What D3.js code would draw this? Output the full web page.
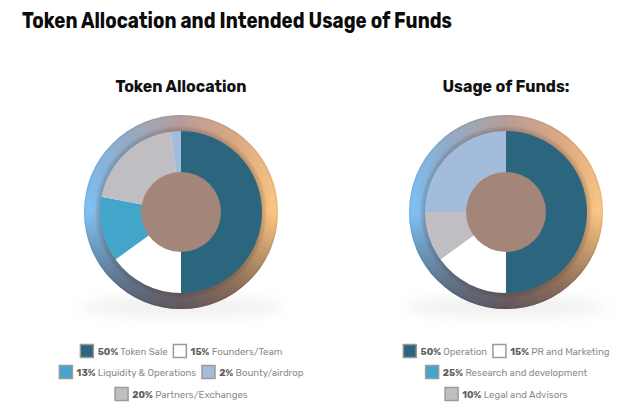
<!DOCTYPE html>
<html>
<head>
<meta charset="utf-8">
<script src="https://cdn.jsdelivr.net/npm/d3@7"></script>
<style>
  html, body { margin: 0; padding: 0; background: #fff; }
  svg { display: block; font-family: Rubik, Inter, "Noto Sans", sans-serif; }
</style>
</head>
<body>
<svg id="chart" width="640" height="416"></svg>
<script>
// token allocation
const allocLabels = ["Token Sale", "Founders/Team", "Liquidity & Operations", "Bounty/airdrop", "Partners/Exchanges"];
const allocValues = [50, 15, 13, 2, 20];
const allocPieColors = ["#2b667e", "#ffffff", "#43a5c9", "#a4bcdc", "#c0bec2"];
const allocLegendColors = ["#2b667e", "#ffffff", "#43a5c9", "#a4bcdc", "#c0bec2"];
const allocPieOrder = [0, 1, 2, 4, 3];
const allocLegendRows = [[0, 1], [2, 3], [4]];

// usage of funds
const fundsLabels = ["Operation", "PR and Marketing", "Research and development", "Legal and Advisors"];
const fundsValues = [50, 15, 25, 10];
const fundsPieColors = ["#2b667e", "#ffffff", "#a4bcdc", "#c0bec2"];
const fundsLegendColors = ["#2b667e", "#ffffff", "#43a5c9", "#c0bec2"];
const fundsPieOrder = [0, 1, 3, 2];
const fundsLegendRows = [[0, 1], [2], [3]];

const svg = d3.select("#chart");
const defs = svg.append("defs");

// ring shading: colour left->right, darker towards the bottom, soft tube edges
const horiz = defs.append("linearGradient").attr("id", "ringH")
  .attr("x1", "0%").attr("x2", "100%").attr("y1", "0%").attr("y2", "0%");
[["0%", "#7fc3f8"], ["22%", "#8fa9c4"], ["50%", "#b09390"], ["78%", "#dca67c"], ["100%", "#ffca85"]]
  .forEach(s => horiz.append("stop").attr("offset", s[0]).attr("stop-color", s[1]));

const vert = defs.append("linearGradient").attr("id", "ringV")
  .attr("x1", "0%").attr("x2", "0%").attr("y1", "0%").attr("y2", "100%");
[["0%", "#ffffff", 0.1], ["50%", "#000000", 0], ["100%", "#131a2a", 0.5]]
  .forEach(s => vert.append("stop").attr("offset", s[0]).attr("stop-color", s[1]).attr("stop-opacity", s[2]));

const tube = defs.append("radialGradient").attr("id", "ringTube")
  .attr("cx", "50%").attr("cy", "50%").attr("r", "50%");
[["82%", "#5a3e3a", 0.28], ["89%", "#000000", 0], ["97%", "#000000", 0], ["100%", "#000000", 0.08]]
  .forEach(s => tube.append("stop").attr("offset", s[0]).attr("stop-color", s[1]).attr("stop-opacity", s[2]));

const blur = defs.append("filter").attr("id", "shadowBlur")
  .attr("x", "-50%").attr("y", "-100%").attr("width", "200%").attr("height", "300%");
blur.append("feGaussianBlur").attr("stdDeviation", 7);

// main title
svg.append("text")
  .attr("x", 22).attr("y", 28)
  .attr("font-size", 22).attr("font-weight", 700).attr("fill", "#0b0b0b")
  .attr("textLength", 430).attr("lengthAdjust", "spacingAndGlyphs")
  .text("Token Allocation and Intended Usage of Funds");

function drawDonut(cx, cy, title, titleWidth, labels, values, pieColors, legendColors, order, rows) {
  const g = svg.append("g");
  const rOuter = 97, rPie = 81, rHole = 40;

  g.append("text")
    .attr("x", cx).attr("y", 92).attr("text-anchor", "middle")
    .attr("font-size", 16.5).attr("font-weight", 700).attr("fill", "#111")
    .attr("textLength", titleWidth).attr("lengthAdjust", "spacingAndGlyphs")
    .text(title);

  // floor shadow
  g.append("ellipse")
    .attr("cx", cx).attr("cy", cy + rOuter - 2)
    .attr("rx", rOuter * 1.05).attr("ry", 8)
    .attr("fill", "#c9c3c6").attr("opacity", 0.3)
    .attr("filter", "url(#shadowBlur)");

  const ring = d3.arc().innerRadius(rPie - 1).outerRadius(rOuter).startAngle(0).endAngle(2 * Math.PI);
  const ringG = g.append("g").attr("transform", `translate(${cx},${cy})`);
  ["ringH", "ringV", "ringTube"].forEach(id =>
    ringG.append("path").attr("d", ring()).attr("fill", `url(#${id})`));

  const pie = d3.pie().sort(null).value(i => values[i]);
  const arc = d3.arc().innerRadius(0).outerRadius(rPie);
  const pieG = g.append("g").attr("transform", `translate(${cx},${cy})`);
  pieG.selectAll("path")
    .data(pie(order))
    .enter()
    .append("path")
    .attr("d", arc)
    .attr("fill", d => pieColors[d.data]);

  pieG.append("circle").attr("r", rHole).attr("fill", "#a48579");

  // legend, each row centred under the donut
  const rowY = [351, 372, 394];
  const sw = 13, gapAfterSwatch = 5, gapBetween = 5;
  rows.forEach((row, ri) => {
    const rowG = g.append("g");
    let x = 0;
    row.forEach(i => {
      rowG.append("rect")
        .attr("x", x + 0.75).attr("y", rowY[ri] - sw / 2)
        .attr("width", sw).attr("height", sw)
        .attr("fill", legendColors[i]).attr("stroke", "#9a9a9a").attr("stroke-width", 1.5);
      x += sw + gapAfterSwatch;
      const t = rowG.append("text")
        .attr("x", x).attr("y", rowY[ri] + 3.5)
        .attr("font-size", 9.6).attr("fill", "#8c8c8c");
      t.append("tspan").attr("font-weight", 700).attr("fill", "#5e5e5e").text(values[i] + "%");
      t.append("tspan").text(" " + labels[i]);
      x += t.node().getComputedTextLength() + gapBetween;
    });
    const w = x - gapBetween;
    rowG.attr("transform", `translate(${cx - w / 2},0)`);
  });
}

drawDonut(181, 212, "Token Allocation", 131, allocLabels, allocValues,
  allocPieColors, allocLegendColors, allocPieOrder, allocLegendRows);
drawDonut(506, 212, "Usage of Funds:", 127, fundsLabels, fundsValues,
  fundsPieColors, fundsLegendColors, fundsPieOrder, fundsLegendRows);
</script>
</body>
</html>
